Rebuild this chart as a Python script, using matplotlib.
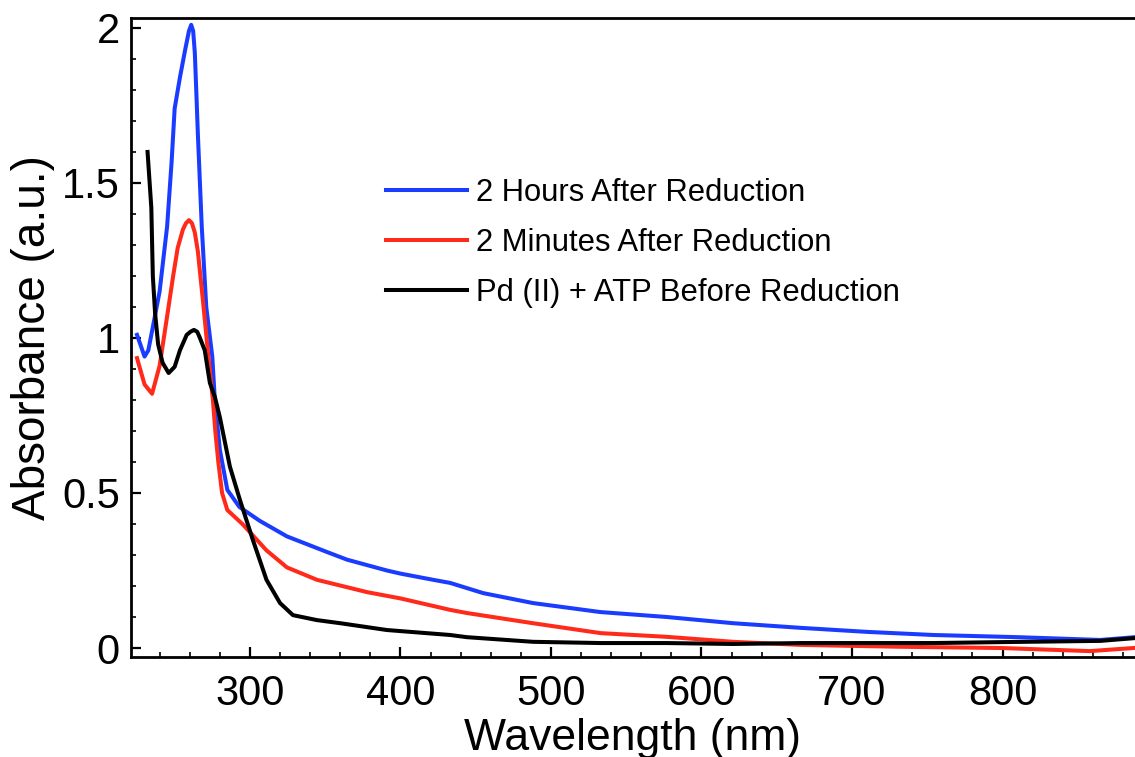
import matplotlib
matplotlib.use("Agg")
import matplotlib.pyplot as plt
from matplotlib.ticker import MultipleLocator, FuncFormatter

plt.rcParams['font.family'] = ['Liberation Sans', 'DejaVu Sans']

# UV-vis spectra
wl_2h = [225, 230, 232.5, 235.5, 240, 245, 248, 250, 253.5, 257, 259.5, 261, 262.3,
         263.4, 264.5, 265.4, 268, 271, 275, 276.7, 280, 285, 293, 306.6, 324.6, 351,
         364.5, 391, 400, 421.7, 433, 455, 488, 532.7, 577, 621, 666, 710, 754, 810,
         865, 888]
abs_2h = [1.01, 0.94, 0.96, 1.035, 1.15, 1.36, 1.57, 1.74, 1.84, 1.93, 1.99, 2.01, 1.99,
          1.92, 1.78, 1.66, 1.36, 1.10, 0.94, 0.80, 0.64, 0.51, 0.455, 0.41, 0.36, 0.31,
          0.285, 0.25, 0.24, 0.22, 0.21, 0.177, 0.145, 0.116, 0.10, 0.08, 0.065, 0.052,
          0.042, 0.035, 0.026, 0.035]

wl_2m = [225, 230, 235, 240, 245, 249, 252, 255.5, 257.5, 259.5, 261.5, 263.4, 265.4,
         268.8, 272, 275.4, 277, 279, 281.5, 285, 295, 311, 324.6, 344.5, 378, 400, 433,
         444, 488, 533, 577, 621, 666, 732, 799, 858, 887]
abs_2m = [0.935, 0.85, 0.82, 0.91, 1.07, 1.20, 1.29, 1.35, 1.37, 1.38, 1.37, 1.34, 1.28,
          1.12, 0.96, 0.80, 0.70, 0.60, 0.50, 0.445, 0.40, 0.315, 0.26, 0.22, 0.18, 0.16,
          0.123, 0.113, 0.08, 0.048, 0.036, 0.02, 0.01, 0.004, 0.0, -0.01, 0.0]

wl_pd = [232, 234.5, 235.5, 237, 239, 242, 246, 250, 253.5, 258, 260.5, 262.8, 265,
         266.8, 270, 273.4, 276.7, 280, 286.7, 293.4, 302, 311, 320, 328.6, 344.5, 360,
         391, 433, 444, 488, 533, 577, 621, 666, 710, 754, 799, 865, 888]
abs_pd = [1.60, 1.42, 1.20, 1.08, 0.98, 0.92, 0.887, 0.907, 0.96, 1.01, 1.02, 1.026, 1.02,
          1.0, 0.96, 0.855, 0.81, 0.745, 0.585, 0.477, 0.348, 0.22, 0.145, 0.106, 0.09,
          0.08, 0.058, 0.042, 0.035, 0.02, 0.016, 0.016, 0.013, 0.016, 0.016, 0.016,
          0.019, 0.023, 0.032]

labels = ['2 Hours After Reduction', '2 Minutes After Reduction',
          'Pd (II) + ATP Before Reduction']

fig = plt.figure(figsize=(11.35, 7.57), dpi=100)
ax = fig.add_axes([131 / 1135, 100 / 757, 1 - 131 / 1135, 639 / 757])

ax.plot(wl_2h, abs_2h, color='#1a3cff', lw=2.9, label=labels[0])
ax.plot(wl_2m, abs_2m, color='#ff2a1a', lw=2.9, label=labels[1])
ax.plot(wl_pd, abs_pd, color='black', lw=2.9, label=labels[2])

ax.set_xlim(221, 888)
ax.set_ylim(-0.029, 2.032)

ax.xaxis.set_major_locator(MultipleLocator(100))
ax.xaxis.set_minor_locator(MultipleLocator(20))
ax.yaxis.set_major_locator(MultipleLocator(0.5))
ax.yaxis.set_minor_locator(MultipleLocator(0.1))
ax.yaxis.set_major_formatter(FuncFormatter(lambda v, p: '%g' % v))

ax.tick_params(which='both', direction='in', top=False, right=False)
ax.tick_params(which='major', length=7.5, width=1.6, labelsize=30)
ax.tick_params(which='minor', length=3.8, width=1.2)
ax.tick_params(axis='x', which='major', pad=12)
ax.tick_params(axis='y', which='major', pad=8)

for s in ['left', 'bottom', 'top']:
    ax.spines[s].set_linewidth(2)
ax.spines['right'].set_visible(False)

ax.set_xlabel('Wavelength (nm)', fontsize=32, labelpad=3)
ax.set_ylabel('Absorbance (a.u.)', fontsize=33, labelpad=5)

ax.legend(loc='upper left', bbox_to_anchor=(386 / 1135, 1 - 178 / 757),
          bbox_transform=fig.transFigure, frameon=False, fontsize=22.3,
          handlelength=2.6, handletextpad=0.32, labelspacing=0.64,
          borderpad=0, borderaxespad=0)

fig.savefig('out.png', dpi=100)
